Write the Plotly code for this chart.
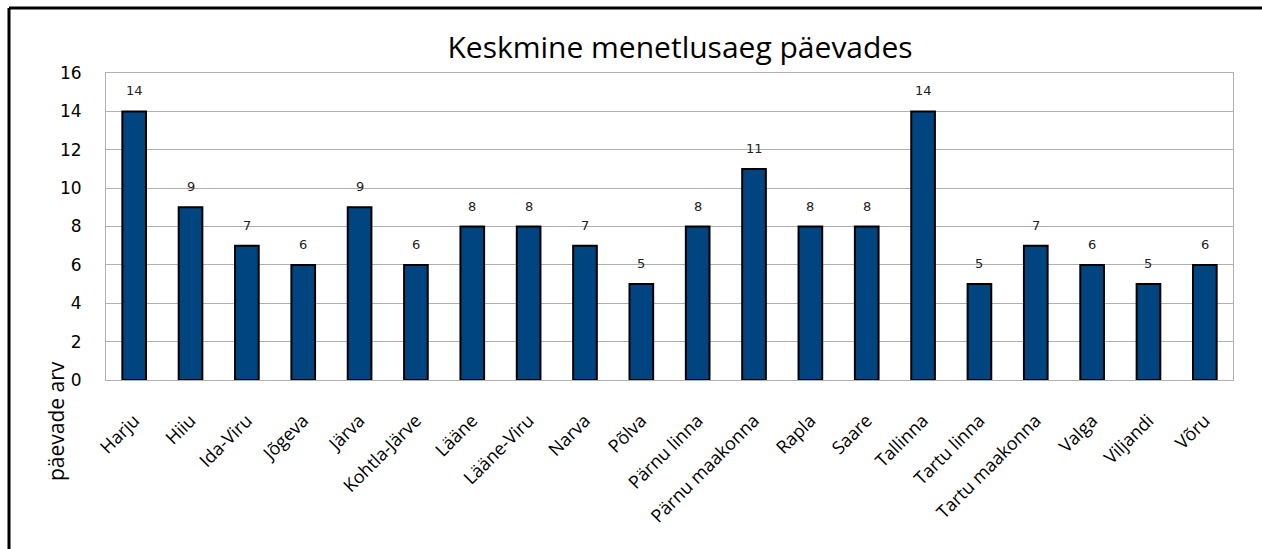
import plotly.graph_objects as go

categories = ["Harju", "Hiiu", "Ida-Viru", "Jõgeva", "Järva", "Kohtla-Järve", "Lääne",
              "Lääne-Viru", "Narva", "Põlva", "Pärnu linna", "Pärnu maakonna", "Rapla",
              "Saare", "Tallinna", "Tartu linna", "Tartu maakonna", "Valga", "Viljandi", "Võru"]
values = [14, 9, 7, 6, 9, 6, 8, 8, 7, 5, 8, 11, 8, 8, 14, 5, 7, 6, 5, 6]
y_ticks = [0, 2, 4, 6, 8, 10, 12, 14, 16]

title_text = "Keskmine menetlusaeg päevades"
y_title = "päevade arv"

W, H = 1262, 549
L, R, T, B = 106, 29, 73, 169
pw, ph = W - L - R, H - T - B

fig = go.Figure()
fig.add_trace(go.Bar(
    x=categories, y=values, width=0.42,
    marker=dict(color="#00457F", line=dict(color="black", width=2)),
    hoverinfo="x+y",
))

for c, v in zip(categories, values):
    fig.add_annotation(x=c, y=v, text=str(v), showarrow=False, yanchor="bottom",
                       yshift=11, font=dict(family="DejaVu Sans", size=13, color="#222"))

def px_x(p):
    return (p - L) / pw

def px_y(p):
    return (H - B - p) / ph

# outer chart frame
fig.add_shape(type="line", xref="paper", yref="paper",
              x0=px_x(9), x1=px_x(1275), y0=px_y(8), y1=px_y(8),
              line=dict(color="black", width=3))
fig.add_shape(type="line", xref="paper", yref="paper",
              x0=px_x(9), x1=px_x(9), y0=px_y(8), y1=px_y(560),
              line=dict(color="black", width=3))

fig.add_annotation(xref="paper", yref="paper", x=px_x(56), y=px_y(421),
                   xanchor="center", yanchor="middle",
                   text=y_title, textangle=-90, showarrow=False,
                   font=dict(family="Open Sans", size=21, color="black"))

fig.update_layout(
    width=W, height=H,
    margin=dict(l=L, r=R, t=T, b=B, autoexpand=False),
    paper_bgcolor="white", plot_bgcolor="white",
    title=dict(text=title_text, x=680 / W, xanchor="center", y=1 - 47 / H, yanchor="middle",
               font=dict(family="Open Sans", size=30, color="black")),
    showlegend=False,
    xaxis=dict(tickangle=-45, tickfont=dict(family="Open Sans", size=18, color="black"),
               showline=True, linecolor="#b0b0b0", linewidth=1, mirror=True,
               ticks="outside", ticklen=22, tickcolor="rgba(0,0,0,0)", fixedrange=True),
    yaxis=dict(range=[0, 16], tickvals=y_ticks, tickfont=dict(family="DejaVu Sans", size=17, color="black"),
               showgrid=True, gridcolor="#b0b0b0", gridwidth=1,
               showline=True, linecolor="#b0b0b0", linewidth=1, mirror=True,
               ticks="outside", ticklen=20, tickcolor="rgba(0,0,0,0)", zeroline=False,
               fixedrange=True),
)

fig.write_html("out.html", config={"displayModeBar": False},
               post_script="document.body.style.margin='0';document.body.style.overflow='hidden';")
